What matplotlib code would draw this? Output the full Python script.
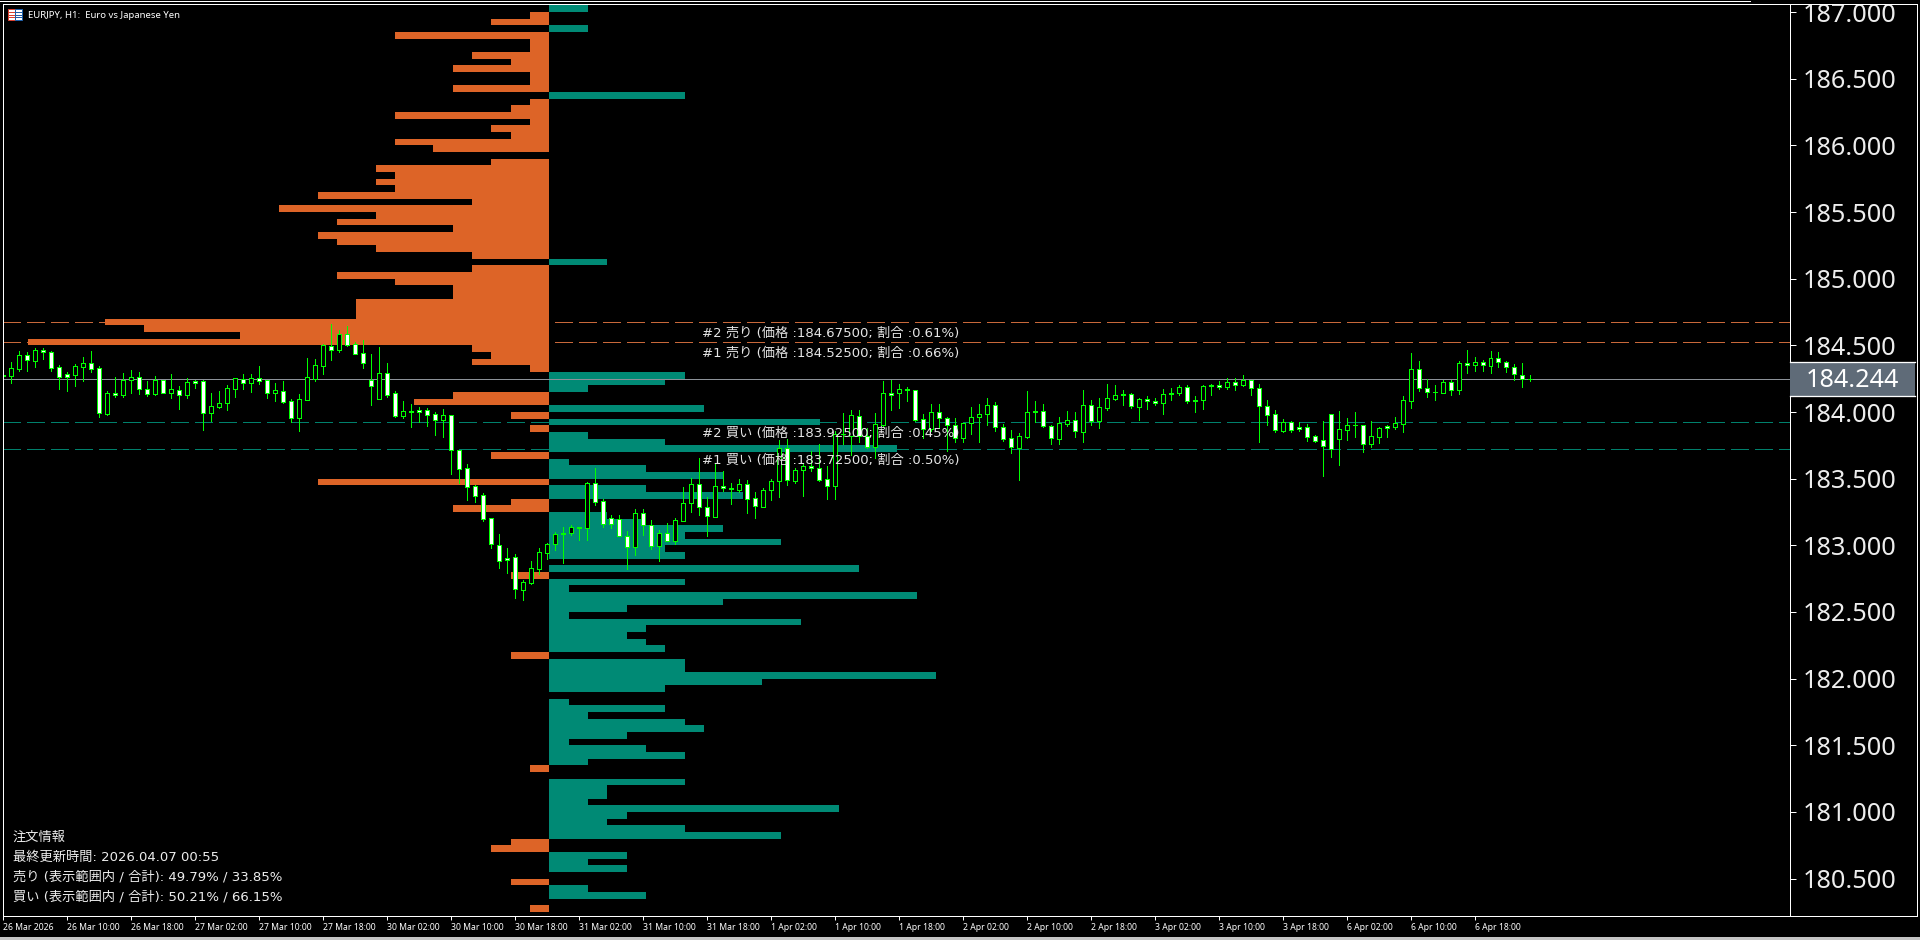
import matplotlib
matplotlib.use('Agg')
import matplotlib.pyplot as plt
from matplotlib.lines import Line2D
from matplotlib.patches import Rectangle

plt.rcParams['font.family'] = ['DejaVu Sans', 'Noto Sans CJK JP']

WIDTH, HEIGHT = 1920, 940

# H1 candles, one value per bar
opens = [
    184.273, 184.273, 184.323, 184.425, 184.385, 184.463, 184.453, 184.335, 184.283, 184.280,
    184.340, 184.365, 184.328, 183.988, 184.140, 184.130, 184.243, 184.265, 184.175, 184.138,
    184.243, 184.145, 184.163, 184.130, 184.230, 184.230, 183.990, 184.040, 184.070, 184.175,
    184.250, 184.220, 184.258, 184.238, 184.145, 184.160, 184.080, 183.958, 184.093, 184.245,
    184.348, 184.498, 184.468, 184.583, 184.508, 184.440, 184.243, 184.100, 184.290, 184.140,
    183.973, 184.003, 184.015, 184.013, 183.983, 183.943, 183.975, 183.713, 183.578, 183.443,
    183.375, 183.203, 183.000, 182.903, 182.910, 182.668, 182.720, 182.825, 182.945, 183.008,
    183.088, 183.090, 183.138, 183.128, 183.465, 183.330, 183.203, 183.198, 183.073, 182.985,
    183.240, 183.150, 182.993, 183.090, 183.035, 183.185, 183.320, 183.458, 183.285, 183.215,
    183.443, 183.428, 183.418, 183.458, 183.353, 183.290, 183.413, 183.480, 183.728, 183.485,
    183.563, 183.593, 183.578, 183.495, 183.443, 183.833, 183.823, 183.973, 183.823, 183.740,
    183.905, 184.140, 184.140, 184.175, 184.163, 183.945, 183.870, 183.998, 183.953, 183.900,
    183.805, 183.915, 183.960, 183.983, 184.050, 183.885, 183.803, 183.733, 183.815, 184.003,
    184.005, 183.893, 183.800, 183.910, 183.938, 183.853, 184.055, 183.930, 184.033, 184.098,
    184.133, 184.133, 184.040, 184.095, 184.080, 184.065, 184.138, 184.140, 184.185, 184.090,
    184.088, 184.200, 184.200, 184.190, 184.223, 184.205, 184.240, 184.178, 184.043, 183.983,
    183.860, 183.923, 183.885, 183.885, 183.818, 183.788, 183.983, 183.795, 183.868, 183.905,
    183.900, 183.758, 183.815, 183.893, 183.890, 183.913, 184.085, 184.320, 184.178, 184.153,
    184.145, 184.223, 184.168, 184.365, 184.350, 184.373, 184.348, 184.403, 184.373, 184.335,
    184.275, 184.245]
highs = [
    184.278, 184.373, 184.455, 184.450, 184.478, 184.478, 184.460, 184.350, 184.298, 184.360,
    184.413, 184.458, 184.343, 184.158, 184.263, 184.293, 184.313, 184.298, 184.233, 184.270,
    184.243, 184.283, 184.195, 184.255, 184.240, 184.240, 184.140, 184.158, 184.203, 184.253,
    184.283, 184.283, 184.345, 184.240, 184.215, 184.233, 184.095, 184.133, 184.405, 184.398,
    184.510, 184.660, 184.615, 184.645, 184.523, 184.540, 184.435, 184.485, 184.368, 184.158,
    184.083, 184.060, 184.038, 184.030, 184.000, 184.023, 183.975, 183.713, 183.610, 183.453,
    183.393, 183.203, 183.085, 182.980, 182.935, 182.740, 182.883, 182.980, 183.018, 183.098,
    183.138, 183.153, 183.140, 183.475, 183.580, 183.345, 183.225, 183.225, 183.105, 183.270,
    183.270, 183.190, 183.113, 183.165, 183.203, 183.438, 183.505, 183.653, 183.363, 183.618,
    183.558, 183.468, 183.498, 183.488, 183.400, 183.430, 183.498, 183.790, 183.798, 183.580,
    183.615, 183.708, 183.760, 183.593, 183.858, 183.990, 184.015, 184.015, 183.878, 183.990,
    184.233, 184.240, 184.210, 184.190, 184.163, 183.985, 184.060, 184.058, 183.963, 183.953,
    183.915, 184.035, 184.058, 184.105, 184.075, 183.910, 183.865, 183.840, 184.158, 184.083,
    184.060, 183.903, 183.963, 184.008, 184.000, 184.165, 184.090, 184.105, 184.210, 184.203,
    184.165, 184.140, 184.105, 184.120, 184.105, 184.173, 184.180, 184.200, 184.200, 184.120,
    184.200, 184.210, 184.233, 184.253, 184.253, 184.278, 184.240, 184.210, 184.090, 184.015,
    183.948, 183.933, 183.925, 183.910, 183.825, 183.933, 183.983, 184.005, 183.955, 184.000,
    183.900, 183.933, 183.888, 183.903, 183.963, 184.120, 184.443, 184.383, 184.248, 184.203,
    184.240, 184.238, 184.383, 184.465, 184.413, 184.388, 184.458, 184.450, 184.383, 184.358,
    184.368, 184.278]
lows = [
    184.273, 184.218, 184.310, 184.308, 184.338, 184.398, 184.308, 184.173, 184.158, 184.195,
    184.233, 184.300, 183.963, 183.978, 184.113, 184.113, 184.140, 184.135, 184.123, 184.128,
    184.143, 184.105, 184.023, 184.105, 184.180, 183.865, 183.933, 184.033, 184.015, 184.113,
    184.170, 184.150, 184.208, 184.105, 184.083, 184.068, 183.925, 183.858, 184.093, 184.233,
    184.285, 184.390, 184.450, 184.498, 184.433, 184.330, 184.053, 184.098, 184.113, 183.963,
    183.955, 183.888, 183.925, 183.895, 183.828, 183.813, 183.535, 183.468, 183.340, 183.325,
    183.183, 182.980, 182.830, 182.793, 182.605, 182.590, 182.710, 182.785, 182.898, 182.965,
    182.868, 183.078, 183.040, 183.040, 183.305, 183.140, 183.133, 183.068, 182.823, 182.928,
    183.078, 182.973, 182.883, 183.030, 183.010, 183.183, 183.250, 183.228, 183.073, 183.210,
    183.408, 183.310, 183.400, 183.243, 183.205, 183.288, 183.340, 183.363, 183.453, 183.468,
    183.370, 183.555, 183.483, 183.348, 183.348, 183.760, 183.678, 183.778, 183.728, 183.655,
    183.890, 184.015, 184.030, 184.083, 183.933, 183.805, 183.855, 183.883, 183.708, 183.775,
    183.775, 183.835, 183.775, 183.903, 183.860, 183.785, 183.693, 183.490, 183.805, 183.928,
    183.888, 183.760, 183.760, 183.895, 183.813, 183.775, 183.903, 183.880, 184.015, 184.090,
    184.053, 184.030, 183.940, 184.023, 184.053, 183.985, 184.090, 184.128, 184.068, 184.000,
    184.023, 184.128, 184.173, 184.173, 184.165, 184.195, 184.128, 183.775, 183.903, 183.850,
    183.850, 183.850, 183.858, 183.783, 183.775, 183.520, 183.663, 183.603, 183.790, 183.813,
    183.700, 183.738, 183.768, 183.813, 183.873, 183.850, 184.030, 184.158, 184.113, 184.090,
    184.143, 184.128, 184.135, 184.293, 184.308, 184.308, 184.293, 184.338, 184.300, 184.240,
    184.188, 184.233]
closes = [
    184.278, 184.328, 184.425, 184.388, 184.463, 184.453, 184.333, 184.265, 184.263, 184.345,
    184.365, 184.325, 183.990, 184.140, 184.130, 184.243, 184.265, 184.175, 184.138, 184.243,
    184.145, 184.175, 184.130, 184.223, 184.220, 183.990, 184.043, 184.070, 184.178, 184.253,
    184.220, 184.258, 184.235, 184.145, 184.163, 184.078, 183.958, 184.095, 184.260, 184.350,
    184.500, 184.465, 184.583, 184.505, 184.438, 184.370, 184.198, 184.290, 184.130, 183.973,
    184.005, 184.008, 184.003, 183.980, 183.943, 183.975, 183.713, 183.575, 183.440, 183.373,
    183.200, 183.008, 182.885, 182.888, 182.670, 182.723, 182.828, 182.948, 183.008, 183.088,
    183.093, 183.135, 183.130, 183.465, 183.328, 183.158, 183.158, 183.073, 182.985, 183.240,
    183.150, 182.993, 183.090, 183.035, 183.188, 183.315, 183.458, 183.285, 183.218, 183.443,
    183.428, 183.420, 183.458, 183.350, 183.293, 183.413, 183.483, 183.728, 183.488, 183.563,
    183.593, 183.578, 183.493, 183.443, 183.833, 183.838, 183.975, 183.820, 183.740, 183.908,
    184.140, 184.130, 184.170, 184.165, 183.943, 183.870, 183.998, 183.953, 183.900, 183.805,
    183.915, 183.960, 183.983, 184.050, 183.885, 183.800, 183.735, 183.818, 183.998, 184.008,
    183.893, 183.803, 183.915, 183.938, 183.855, 184.050, 183.930, 184.035, 184.103, 184.125,
    184.125, 184.048, 184.095, 184.080, 184.065, 184.133, 184.143, 184.185, 184.080, 184.085,
    184.193, 184.193, 184.190, 184.223, 184.205, 184.240, 184.183, 184.043, 183.980, 183.863,
    183.923, 183.863, 183.870, 183.815, 183.785, 183.748, 183.720, 183.870, 183.900, 183.900,
    183.758, 183.818, 183.878, 183.878, 183.915, 184.088, 184.320, 184.178, 184.153, 184.148,
    184.223, 184.168, 184.365, 184.350, 184.373, 184.350, 184.403, 184.373, 184.335, 184.283,
    184.245, 184.244]

# order book histogram: price level, number of orders
sell_levels = [
    187.075, 186.975, 186.925, 186.825, 186.775, 186.725, 186.675, 186.625, 186.575, 186.525,
    186.475, 186.425, 186.325, 186.275, 186.225, 186.175, 186.125, 186.075, 186.025, 185.975,
    185.875, 185.825, 185.775, 185.725, 185.675, 185.625, 185.575, 185.525, 185.475, 185.425,
    185.375, 185.325, 185.275, 185.225, 185.175, 185.075, 185.025, 184.975, 184.925, 184.875,
    184.825, 184.775, 184.725, 184.675, 184.625, 184.575, 184.525, 184.475, 184.425, 184.375,
    184.325, 184.125, 184.075, 183.975, 183.875, 183.675, 183.475, 183.325, 183.275, 182.775,
    182.175, 181.325, 180.775, 180.725, 180.475, 180.275]
sell_counts = [
    2, 1, 3, 8, 1, 1, 4, 2, 5, 1,
    1, 5, 1, 2, 8, 1, 3, 2, 8, 6,
    3, 9, 8, 9, 8, 12, 4, 14, 9, 11,
    5, 12, 11, 9, 4, 4, 11, 8, 5, 5,
    10, 10, 10, 23, 21, 16, 27, 4, 3, 4,
    1, 5, 7, 2, 1, 3, 12, 2, 5, 2,
    2, 1, 2, 3, 2, 1]
buy_levels = [
    187.025, 186.875, 186.375, 185.125, 184.275, 184.225, 184.175, 184.025, 183.925, 183.825,
    183.775, 183.725, 183.625, 183.575, 183.525, 183.425, 183.375, 183.225, 183.175, 183.125,
    183.075, 183.025, 182.975, 182.925, 182.825, 182.725, 182.675, 182.625, 182.575, 182.525,
    182.475, 182.425, 182.375, 182.325, 182.275, 182.225, 182.125, 182.075, 182.025, 181.975,
    181.925, 181.825, 181.775, 181.725, 181.675, 181.625, 181.575, 181.525, 181.475, 181.425,
    181.375, 181.225, 181.175, 181.125, 181.075, 181.025, 180.975, 180.925, 180.875, 180.825,
    180.675, 180.625, 180.575, 180.425, 180.375]
buy_counts = [
    2, 2, 7, 3, 7, 6, 2, 8, 14, 2,
    6, 18, 1, 5, 9, 5, 10, 3, 5, 9,
    7, 12, 6, 7, 16, 7, 1, 19, 9, 4,
    1, 13, 5, 4, 5, 6, 7, 7, 20, 11,
    6, 1, 6, 2, 7, 8, 4, 1, 5, 7,
    2, 7, 3, 3, 2, 15, 4, 3, 7, 12,
    4, 2, 4, 2, 5]
level_step = 0.05

# top levels marked on the chart
sell_marks = [184.675, 184.525]
buy_marks = [183.925, 183.725]
mark_labels = [
    (184.675, '#2 売り (価格 :184.67500; 割合 :0.61%)'),
    (184.525, '#1 売り (価格 :184.52500; 割合 :0.66%)'),
    (183.925, '#2 買い (価格 :183.92500; 割合 :0.45%)'),
    (183.725, '#1 買い (価格 :183.72500; 割合 :0.50%)'),
]
info_lines = [
    '注文情報',
    '最終更新時間: 2026.04.07 00:55',
    '売り (表示範囲内 / 合計): 49.79% / 33.85%',
    '買い (表示範囲内 / 合計): 50.21% / 66.15%',
]

last_price = 184.244
price_ticks = [180.5, 181.0, 181.5, 182.0, 182.5, 183.0, 183.5, 184.0, 184.5,
               185.0, 185.5, 186.0, 186.5, 187.0]
time_labels = [
    '26 Mar 2026', '26 Mar 10:00', '26 Mar 18:00', '27 Mar 02:00', '27 Mar 10:00', '27 Mar 18:00',
    '30 Mar 02:00', '30 Mar 10:00', '30 Mar 18:00', '31 Mar 02:00', '31 Mar 10:00', '31 Mar 18:00',
    '1 Apr 02:00', '1 Apr 10:00', '1 Apr 18:00', '2 Apr 02:00', '2 Apr 10:00', '2 Apr 18:00',
    '3 Apr 02:00', '3 Apr 10:00', '3 Apr 18:00', '6 Apr 02:00', '6 Apr 10:00', '6 Apr 18:00']
title = 'EURJPY, H1:  Euro vs Japanese Yen'

SELL_COLOR = '#DD6427'
BUY_COLOR = '#008A75'
CANDLE_COLOR = '#00FF00'
PX = 0.72  # one pixel in points at dpi 100


def fx(px):
    return px / WIDTH


def fy(px):
    return 1 - px / HEIGHT


fig = plt.figure(figsize=(WIDTH / 100, HEIGHT / 100), dpi=100, facecolor='black')
ax = fig.add_axes([fx(3), fy(916), fx(1790 - 3), fy(3.5) - fy(916)], facecolor='black')

# bar i sits at 2.4 + 8 * i pixels, 133.33 pixels per yen
ax.set_xlim((3 - 2.4) / 8, (1790 - 2.4) / 8)
ax.set_ylim(184 - 504 / 133.33, 184 + 408.5 / 133.33)

# histogram shares the axes: zero line at bar 68.3, one order is 19.33 pixels
hist_zero = (549 - 2.4) / 8
hist_unit = 19.33 / 8
ax.barh(sell_levels, [-c * hist_unit for c in sell_counts], height=level_step, left=hist_zero,
        color=SELL_COLOR, linewidth=0, antialiased=False, zorder=2)
ax.barh(buy_levels, [c * hist_unit for c in buy_counts], height=level_step, left=hist_zero,
        color=BUY_COLOR, linewidth=0, antialiased=False, zorder=2)

for level in sell_marks:
    ax.axhline(level, color='#C8683A', lw=PX, dashes=(18, 6), antialiased=False, zorder=1)
for level in buy_marks:
    ax.axhline(level, color='#00806C', lw=PX, dashes=(18, 6), antialiased=False, zorder=1)
ax.axhline(last_price, color='#8C9299', lw=PX, antialiased=False, zorder=3)

# candles
bars = list(range(len(opens)))
ax.vlines(bars, lows, highs, color=CANDLE_COLOR, lw=PX, antialiased=False, zorder=4)
tops = [max(o, c) for o, c in zip(opens, closes)]
bottoms = [min(o, c) for o, c in zip(opens, closes)]
fills = ['white' if c < o else 'black' for o, c in zip(opens, closes)]
ax.bar(bars, [t - b for t, b in zip(tops, bottoms)], bottom=bottoms, width=0.5, color=fills,
       edgecolor=CANDLE_COLOR, linewidth=PX, antialiased=False, zorder=5)

for level, label in mark_labels:
    ax.text((702 - 2.4) / 8, level - 11.3 / 133.33, label, color='#E6E6E6', fontsize=9.5,
            ha='left', va='center', zorder=6)

# axes and ticks
for name in ['top', 'left']:
    ax.spines[name].set_visible(False)
for name in ['right', 'bottom']:
    ax.spines[name].set_color('white')
    ax.spines[name].set_linewidth(PX)
ax.yaxis.tick_right()
ax.set_yticks(price_ticks)
ax.set_yticklabels([f'{p:.3f}' for p in price_ticks], family='Noto Sans', fontsize=18.2, color='#EDEDED')
ax.tick_params(axis='y', length=6 * PX, width=PX, color='white', pad=5)
ax.set_xticks([8 * k for k in range(len(time_labels))])
ax.set_xticklabels(time_labels, family='Noto Sans', fontsize=6.2, color='white', ha='left')
ax.tick_params(axis='x', length=4 * PX, width=PX, color='white', pad=2.2)

# last price box on the price scale
box_w = (1915 - 1790) / (1790 - 3)
box_h = 17 / 133.33
trans = ax.get_yaxis_transform()
ax.add_patch(Rectangle((1, last_price - box_h), box_w, 2 * box_h, transform=trans, clip_on=False,
                       facecolor='#5F6B78', edgecolor='none', zorder=7))
for edge in (last_price - box_h, last_price + box_h):
    ax.plot([1, 1 + box_w], [edge, edge], transform=trans, clip_on=False, color='white',
            lw=PX * 1.3, zorder=8)
ax.text(1 + 15.5 / (1790 - 3), last_price - 1.5 / 133.33, f'{last_price:.3f}', transform=trans,
        family='Noto Sans', fontsize=18.2, color='white', ha='left', va='center', zorder=9)

# window frame
frame = [((0, 1750), (1, 1)), ((2.5, 1916.5), (3.5, 3.5)), ((2.5, 2.5), (3.5, 916)),
         ((1916.5, 1916.5), (3.5, 916)), ((2.5, 1916.5), (916, 916))]
for xs, ys in frame:
    fig.add_artist(Line2D([fx(x) for x in xs], [fy(y) for y in ys], color='white', lw=PX))
fig.add_artist(Rectangle((0, 0), 1, 3.5 / HEIGHT, transform=fig.transFigure, facecolor='#C4C4C4',
                         edgecolor='none'))

# symbol icon and title
fig.add_artist(Rectangle((fx(7.5), fy(20)), fx(7), fy(9) - fy(20), transform=fig.transFigure,
                         facecolor='white', edgecolor='#D8402F', lw=PX))
fig.add_artist(Rectangle((fx(14.5), fy(20)), fx(7), fy(9) - fy(20), transform=fig.transFigure,
                         facecolor='white', edgecolor='#1F5FA8', lw=PX))
for row in (12, 14.5, 17):
    fig.add_artist(Line2D([fx(8.5), fx(14)], [fy(row), fy(row)], color='#D8402F', lw=PX))
    fig.add_artist(Line2D([fx(15), fx(21)], [fy(row), fy(row)], color='#1F5FA8', lw=PX))
fig.text(fx(27.5), fy(15), title, color='white', family='Noto Sans', fontsize=6.9, ha='left', va='center')

for k, line in enumerate(info_lines):
    fig.text(fx(13), fy(837.2 + 20 * k), line, color='#EDEDED', fontsize=9.5, ha='left', va='center')

fig.savefig('out.png', dpi=100, facecolor='black')
